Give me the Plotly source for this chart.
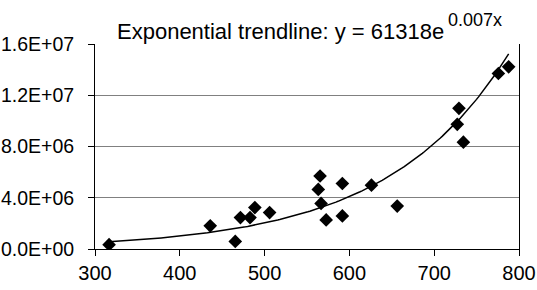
import numpy as np
import plotly.graph_objects as go

# Data
x_values = [316.6, 435.9, 465.4, 471.5, 482.8, 488.5, 505.9, 563.3, 565.4, 566.6,
            572.6, 591.7, 591.7, 626.0, 656.4, 727.2, 729.2, 734.4, 775.7, 787.8]
y_values = [0.34e6, 1.81e6, 0.59e6, 2.45e6, 2.45e6, 3.23e6, 2.84e6, 4.65e6, 5.70e6, 3.56e6,
            2.27e6, 5.11e6, 2.58e6, 4.98e6, 3.35e6, 9.73e6, 10.98e6, 8.34e6, 13.70e6, 14.22e6]

# Exponential trendline coefficients (y = a * e^(b x)) as stated in the title
trend_a = 61318
trend_b = 0.007

y_tick_vals = [0, 4e6, 8e6, 1.2e7, 1.6e7]
y_tick_text = ["0.0E+00", "4.0E+06", "8.0E+06", "1.2E+07", "1.6E+07"]
x_tick_vals = [300, 400, 500, 600, 700, 800]

title_main = "Exponential trendline: y = 61318e"
title_sup = "0.007x"

trend_x = np.linspace(min(x_values), max(x_values), 200)
trend_y = trend_a * np.exp(trend_b * trend_x)

FONT = "Liberation Sans, Arial, sans-serif"

W, H = 537, 290
L, T = 95, 43.5
PW, PH = 424, 206

fig = go.Figure()
fig.add_trace(go.Scatter(x=trend_x, y=trend_y, mode="lines",
                         line=dict(color="black", width=1.5), hoverinfo="skip"))
fig.add_trace(go.Scatter(x=x_values, y=y_values, mode="markers",
                         marker=dict(symbol="diamond", size=10.5, color="black")))

fig.update_layout(
    width=W, height=H,
    margin=dict(l=L, r=W - L - PW, t=T, b=H - T - PH, pad=0),
    paper_bgcolor="white", plot_bgcolor="white",
    showlegend=False,
    font=dict(family=FONT, size=18, color="black"),
    xaxis=dict(range=[300, 800], tickvals=x_tick_vals, showgrid=False,
               showline=True, linecolor="black", linewidth=1,
               ticks="outside", ticklen=6, tickcolor="black",
               tickfont=dict(size=20), zeroline=False, automargin=False),
    yaxis=dict(range=[0, 1.6e7], tickvals=y_tick_vals, ticktext=y_tick_text,
               showgrid=True, gridcolor="#808080", gridwidth=1,
               showline=True, linecolor="black", linewidth=1, mirror=True,
               ticks="outside", ticklen=6, tickcolor="black", ticklabelstandoff=10,
               tickfont=dict(size=19.5), zeroline=False, automargin=False),
    annotations=[
        dict(text=title_main, xref="paper", yref="paper", x=(446 - L) / PW,
             y=(T + PH - 31) / PH, xanchor="right", yanchor="middle",
             showarrow=False, font=dict(size=22, family=FONT, color="black")),
        dict(text=title_sup, xref="paper", yref="paper", x=(446 - L) / PW,
             y=(T + PH - 19) / PH, xanchor="left", yanchor="middle",
             showarrow=False, font=dict(size=18, family=FONT, color="black")),
    ],
)

fig.write_html("out.html",
               config={"displayModeBar": False},
               post_script="document.body.style.margin='0';document.body.style.overflow='hidden';")
